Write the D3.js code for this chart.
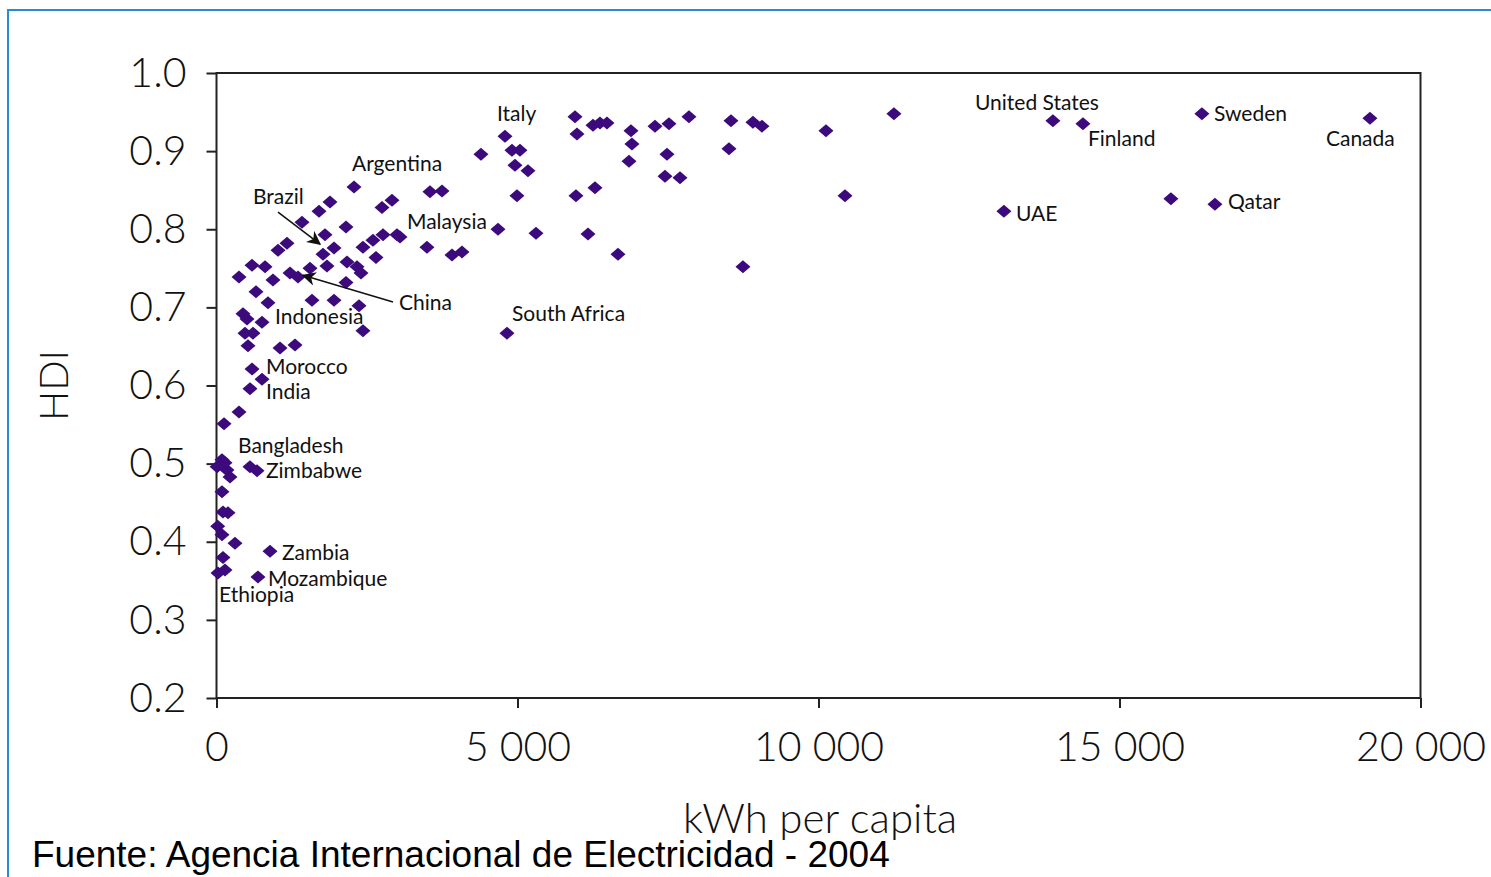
<!DOCTYPE html>
<html>
<head>
<meta charset="utf-8">
<script src="https://cdn.jsdelivr.net/npm/d3@7"></script>
<style>
  body { margin: 0; background: #fff; }
</style>
</head>
<body>
<div id="chart"></div>
<script>
// kWh per capita vs HDI, one entry per country
var kwh = [2284, 1885, 1703, 1420, 2151, 1802, 1171, 1022, 1952, 1769,
  590, 806, 374, 938, 1221, 1354, 1553, 1835, 2168, 2334,
  2400, 2151, 2433, 2649, 2599, 2766, 2998, 3048, 2749, 2915,
  3546, 3746, 3496, 3912, 4078, 4676, 4958, 4991, 656, 855,
  1586, 1952, 2367, 2433, 440, 507, 756, 473, 606, 523,
  1055, 1304, 590, 756, 556, 374, 125, 91, 10, 174,
  224, 141, 556, 673, 91, 108, 191, 20, 91, 307,
  889, 108, 25, 141, 689, 4825, 4792, 4908, 5041, 5174,
  4393, 5307, 6171, 6669, 5955, 5988, 6254, 6370, 6486, 6885,
  6901, 6852, 7284, 7516, 7848, 7483, 7450, 7699, 5971, 6287,
  8546, 8513, 8911, 9061, 10124, 11253, 10440, 8745, 13080, 13894,
  14393, 15854, 16369, 16585, 19160];
var hdi = [0.854, 0.835, 0.823, 0.809, 0.803, 0.793, 0.782, 0.773, 0.776, 0.768,
  0.754, 0.752, 0.739, 0.735, 0.744, 0.739, 0.750, 0.753, 0.758, 0.752,
  0.744, 0.732, 0.777, 0.764, 0.786, 0.793, 0.793, 0.790, 0.828, 0.837,
  0.848, 0.849, 0.777, 0.767, 0.771, 0.800, 0.882, 0.843, 0.720, 0.706,
  0.709, 0.709, 0.702, 0.670, 0.692, 0.685, 0.681, 0.667, 0.667, 0.651,
  0.648, 0.652, 0.621, 0.608, 0.596, 0.566, 0.551, 0.505, 0.496, 0.492,
  0.483, 0.501, 0.496, 0.491, 0.464, 0.438, 0.437, 0.420, 0.409, 0.398,
  0.388, 0.380, 0.360, 0.364, 0.355, 0.667, 0.919, 0.901, 0.901, 0.875,
  0.896, 0.795, 0.794, 0.768, 0.944, 0.922, 0.933, 0.936, 0.936, 0.926,
  0.909, 0.887, 0.932, 0.935, 0.944, 0.896, 0.868, 0.866, 0.843, 0.853,
  0.939, 0.903, 0.937, 0.932, 0.926, 0.948, 0.843, 0.752, 0.823, 0.939,
  0.935, 0.839, 0.948, 0.832, 0.942];

// country labels, placed in data units (left edge / vertical middle)
var labelNames = ["Italy", "Argentina", "Brazil", "Malaysia", "China", "Indonesia",
  "South Africa", "Morocco", "India", "Bangladesh", "Zimbabwe", "Zambia",
  "Mozambique", "Ethiopia", "United States", "Finland", "Sweden", "Canada",
  "UAE", "Qatar"];
var labelKwh = [4659, 2251, 606, 3164, 3031, 972, 4908, 822, 822, 357, 822, 1088,
  855, 42, 12599, 14476, 16569, 18429, 13279, 16801];
var labelHdi = [0.949, 0.885, 0.843, 0.811, 0.707, 0.689, 0.693, 0.625, 0.594,
  0.525, 0.493, 0.387, 0.354, 0.334, 0.964, 0.917, 0.949, 0.917, 0.822, 0.837];

// arrows: from label to point
var arrows = [
  {from: [1022, 0.822], to: [1719, 0.781]},   // Brazil
  {from: [2932, 0.707], to: [1437, 0.741]}    // China
];

var xTicks = [0, 5000, 10000, 15000, 20000];
var yTicks = [0.2, 0.3, 0.4, 0.5, 0.6, 0.7, 0.8, 0.9, 1.0];

var svgWidth = 1491;
var svgHeight = 877;

var svg = d3.select("#chart")
  .append("svg")
  .attr("width", svgWidth)
  .attr("height", svgHeight);

// blue slide border
svg.append("rect")
  .attr("x", 8).attr("y", 10)
  .attr("width", 1600).attr("height", 1000)
  .attr("fill", "none")
  .attr("stroke", "#2a8ad8")
  .attr("stroke-width", 2);

var x = d3.scaleLinear().domain([0, 20000]).range([216.5, 1420.5]);
var y = d3.scaleLinear().domain([0.2, 1.0]).range([698, 73]);

var axisColor = "#222";
var tickFont = "Lato, 'DejaVu Sans', sans-serif";

// frame
svg.append("rect")
  .attr("x", x(0)).attr("y", y(1))
  .attr("width", x(20000) - x(0))
  .attr("height", y(0.2) - y(1))
  .attr("fill", "none")
  .attr("stroke", axisColor)
  .attr("stroke-width", 2);

var xAxis = d3.axisBottom(x)
  .tickValues(xTicks)
  .tickSize(10)
  .tickPadding(24)
  .tickFormat(function(d) { return d3.format(",")(d).replace(",", " "); });

var yAxis = d3.axisLeft(y)
  .tickValues(yTicks)
  .tickSize(10)
  .tickPadding(20)
  .tickFormat(d3.format(".1f"));

var gx = svg.append("g")
  .attr("transform", `translate(0, ${y(0.2)})`)
  .call(xAxis);

var gy = svg.append("g")
  .attr("transform", `translate(${x(0)}, 0)`)
  .call(yAxis);

[gx, gy].forEach(function(g) {
  g.select(".domain").remove();
  g.selectAll(".tick line").attr("stroke", axisColor).attr("stroke-width", 2);
  g.selectAll(".tick text")
    .attr("fill", "#111")
    .style("font-family", tickFont)
    .style("font-weight", 300)
    .style("font-size", "41px");
});

// axis titles
svg.append("text")
  .attr("transform", `translate(${68}, ${y(0.6)}) rotate(-90)`)
  .attr("text-anchor", "middle")
  .style("font-family", tickFont)
  .style("font-weight", 300)
  .style("font-size", "40px")
  .attr("fill", "#111")
  .text("HDI");

svg.append("text")
  .attr("x", 820)
  .attr("y", 833)
  .attr("text-anchor", "middle")
  .style("font-family", tickFont)
  .style("font-weight", 300)
  .style("font-size", "42px")
  .attr("fill", "#111")
  .text("kWh per capita");

// diamonds
var diamond = "M0,-6.5L7.5,0L0,6.5L-7.5,0Z";
svg.append("g").selectAll("path")
  .data(d3.range(kwh.length))
  .enter()
  .append("path")
  .attr("d", diamond)
  .attr("transform", i => `translate(${x(kwh[i])}, ${y(hdi[i])})`)
  .attr("fill", "#3c0a7d");

// arrows
svg.append("defs").append("marker")
  .attr("id", "head")
  .attr("viewBox", "0 0 10 10")
  .attr("refX", 9).attr("refY", 5)
  .attr("markerWidth", 14).attr("markerHeight", 14)
  .attr("markerUnits", "userSpaceOnUse")
  .attr("orient", "auto")
  .append("path")
  .attr("d", "M0,0L10,5L0,10L3,5Z")
  .attr("fill", "#111");

svg.append("g").selectAll("line")
  .data(arrows)
  .enter()
  .append("line")
  .attr("x1", d => x(d.from[0])).attr("y1", d => y(d.from[1]))
  .attr("x2", d => x(d.to[0])).attr("y2", d => y(d.to[1]))
  .attr("stroke", "#111")
  .attr("stroke-width", 1.5)
  .attr("marker-end", "url(#head)");

// country labels
svg.append("g").selectAll("text")
  .data(labelNames)
  .enter()
  .append("text")
  .attr("x", (d, i) => x(labelKwh[i]))
  .attr("y", (d, i) => y(labelHdi[i]))
  .attr("dominant-baseline", "central")
  .style("font-family", tickFont)
  .style("font-size", "21px")
  .attr("fill", "#111")
  .text(d => d);

// source note
svg.append("text")
  .attr("x", 32)
  .attr("y", 867)
  .style("font-family", "'Liberation Sans', Arial, sans-serif")
  .style("font-size", "37px")
  .attr("fill", "#000")
  .text("Fuente: Agencia Internacional de Electricidad - 2004");
</script>
</body>
</html>
